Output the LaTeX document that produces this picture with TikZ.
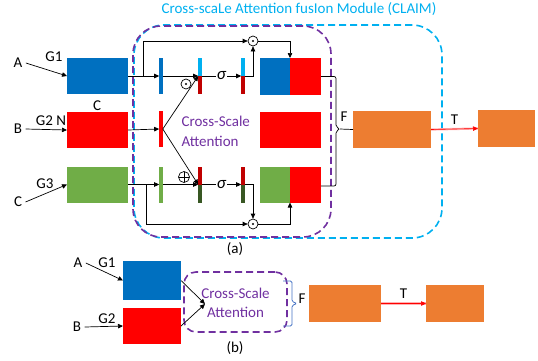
\documentclass[tikz,border=0pt]{standalone}
\usepackage{fontspec}
\setmainfont{Carlito}
\usetikzlibrary{arrows.meta}
\definecolor{cblue}{RGB}{0,112,192}
\definecolor{cred}{RGB}{255,0,0}
\definecolor{cgreen}{RGB}{112,173,71}
\definecolor{clight}{RGB}{0,176,240}
\definecolor{cdred}{RGB}{192,0,0}
\definecolor{cdgreen}{RGB}{56,87,35}
\definecolor{corange}{RGB}{237,125,49}
\definecolor{cpurple}{RGB}{112,48,160}
\definecolor{cbrace}{RGB}{68,114,196}
\begin{document}
\begin{tikzpicture}[x=1pt,y=-1pt,
  every node/.style={font=\fontsize{15}{17}\selectfont},
  box/.style={rectangle, inner sep=0pt, outer sep=0pt},
  bar/.style={rectangle, inner sep=0pt, outer sep=0pt, minimum width=3.6pt, minimum height=36pt},
  halfbar/.style={rectangle, inner sep=0pt, outer sep=0pt, minimum width=3.6pt, minimum height=18pt},
  arr/.style={draw=black, line width=0.7pt, -{Triangle[length=5pt,width=4.5pt]}},
  ln/.style={draw=black, line width=0.7pt},
  odot/.style={circle, draw, line width=0.7pt, minimum size=10pt, inner sep=0pt,
    path picture={\fill (path picture bounding box.center) circle (1.1pt);}},
  oplus/.style={circle, draw, line width=0.7pt, minimum size=11pt, inner sep=0pt,
    path picture={\draw[line width=0.7pt] (path picture bounding box.north) -- (path picture bounding box.south)
      (path picture bounding box.west) -- (path picture bounding box.east);}},
  tarrow/.style={draw=red, line width=0.6pt, -{Triangle[length=5pt,width=4.5pt]},
    preaction={draw=red!30, line width=2.2pt, -}},
  pdash/.style={draw=cpurple, line width=1.6pt, dash pattern=on 7pt off 4pt},
  cdash/.style={draw=clight, line width=1.6pt, dash pattern=on 7pt off 4pt},
  sig/.style={fill=white, inner sep=1pt, font=\fontsize{17}{17}\selectfont\itshape}
]
\useasboundingbox (0,0) rectangle (538,360);

% title
\node[text=clight] (title) at (299,9) {Cross-scaLe Attention fusIon Module (CLAIM)};

% dashed frames
\node[cdash, rounded corners=30pt, minimum width=308pt, minimum height=213pt, inner sep=0pt] (claim) at (288,131.5) {};
\node[pdash, rounded corners=28pt, minimum width=198pt, minimum height=211pt, inner sep=0pt] (csa) at (232,131.5) {};

% input boxes
\node[box, fill=cblue, minimum width=61pt, minimum height=36pt] (g1) at (97.5,76) {};
\node[box, fill=cred, minimum width=61pt, minimum height=36pt] (g2) at (97.5,130) {};
\node[box, fill=cgreen, minimum width=61pt, minimum height=36pt] (g3) at (97.5,184.5) {};

% input labels
\node (lA) at (18,63) {A};
\node (lG1) at (54,57) {G1};
\node (lB) at (18,129) {B};
\node (lG2) at (51,121) {G2 N};
\node (lCt) at (97,106) {C};
\node (lC) at (18,202) {C};
\node (lG3) at (45,184) {G3};
\draw[arr] (lA.east) -- (g1.west);
\draw[arr] (lB.east) -- (g2.west);
\draw[arr] (lC.east) -- (g3.west);

% bars
\node[bar, fill=cblue] (b1) at (161,76) {};
\node[halfbar, fill=clight] (b2t) at (200,67) {};
\node[halfbar, fill=cdred] (b2b) at (200,85) {};
\node[halfbar, fill=clight] (b3t) at (243,67) {};
\node[halfbar, fill=cdred] (b3b) at (243,85) {};
\node[bar, fill=cred] (b4) at (161,129) {};
\node[bar, fill=cgreen] (b5) at (161,184.5) {};
\node[halfbar, fill=cdred] (b6t) at (200,175.5) {};
\node[halfbar, fill=cdgreen] (b6b) at (200,193.5) {};
\node[halfbar, fill=cdred] (b7t) at (243,175.5) {};
\node[halfbar, fill=cdgreen] (b7b) at (243,193.5) {};

% operators
\node[odot] (o0) at (186,84) {};
\node[oplus] (p0) at (184,177) {};
\node[odot] (o1) at (253,41) {};
\node[odot] (o2) at (253,224) {};

% concat boxes
\node[box, fill=cblue, minimum width=30pt, minimum height=37pt] (c1b) at (275,76.5) {};
\node[box, fill=cred, minimum width=31pt, minimum height=37pt] (c1r) at (305.5,76.5) {};
\node[box, fill=cred, minimum width=61pt, minimum height=36pt] (c2) at (290.5,130) {};
\node[box, fill=cgreen, minimum width=30pt, minimum height=36pt] (c3g) at (275,184.5) {};
\node[box, fill=cred, minimum width=31pt, minimum height=36pt] (c3r) at (305.5,184.5) {};

% cross-scale text
\node[text=cpurple, align=left, anchor=west, font=\fontsize{15}{20}\selectfont] (cstext) at (178,131) {Cross-Scale\\Attention};

% row 1
\coordinate (br1) at (143,76);
\draw[arr] (g1.east) -- (b1.west);
\draw[arr] (br1) |- (o1.west);
\draw[arr] (b1.east) -- (b2t.south west);
\draw[arr] (b2t.south east) -- node[sig] (s1) {σ} (b3t.south west);
\draw[arr] (b3t.south east) -| (o1.south);
\draw[arr] (o1.east) -| (c1r.north west);

% row 2
\draw[arr] (g2.east) -- (b4.west);
\draw[arr] (b4.east) -- (b2t.south west);
\draw[arr] (b4.east) -- (b6t.south west);

% row 3
\coordinate (br3) at (146,184.5);
\draw[arr] (g3.east) -- (b5.west);
\draw[arr] (br3) |- (o2.west);
\draw[arr] (b5.east) -- (b6t.south west);
\draw[arr] (b6t.south east) -- node[sig] (s2) {σ} (b7t.south west);
\draw[arr] (b7t.south east) -| (o2.north);
\draw[arr] (o2.east) -| (c3r.south west);

% brace (a)
\coordinate (ftip) at (340,129);
\draw[ln, rounded corners=2pt] (c1r.east) -- (336,76.5) -- (336,127) -- (ftip) -- (336,131) -- (336,186) -- (c3r.east |- 0,186);
\node[box, fill=corange, minimum width=78pt, minimum height=37pt] (or1) at (392,129.5) {};
\node[box, fill=corange, minimum width=57pt, minimum height=37pt] (or2) at (506.5,128.5) {};
\draw[ln] (ftip) -- (or1.west);
\node (fa) at (344,117) {F};
\draw[tarrow] (or1.east) -- node[above=1pt, text=black] (ta) {T} (or2.west);

\node (capa) at (235,249) {(a)};

% part (b)
\node[box, fill=cblue, minimum width=58pt, minimum height=39pt] (bb1) at (152,280.5) {};
\node[box, fill=cred, minimum width=58pt, minimum height=36pt] (bb2) at (152,326) {};
\node (bA) at (78,263) {A};
\node (bG1) at (107,263) {G1};
\node (bB) at (77,327) {B};
\node (bG2) at (107,319) {G2};
\draw[arr] (bA.east) -- (bb1.west);
\draw[arr] (bB.east) -- (bb2.west);
\node[pdash, rounded corners=12pt, minimum width=103pt, minimum height=60pt, inner sep=0pt] (cs) at (235.5,302) {};
\node[text=cpurple, align=center, font=\fontsize{15}{19}\selectfont] (cstb) at (235.5,302.5) {Cross-Scale\\Attention};
\coordinate (csin) at (205,304);
\draw[arr] (bb1.east) -- (csin);
\draw[arr] (bb2.east) -- (csin);
\coordinate (bt1) at (283,281);
\coordinate (bt2) at (283,326);
\coordinate (btip) at (297,303.5);
\draw[draw=cbrace, line width=0.8pt, rounded corners=1.5pt] (bt1) -- (292,281) -- (292,301.5) -- (btip) -- (292,305.5) -- (292,326) -- (bt2);
\node (fb) at (302,299) {F};
\node[box, fill=corange, minimum width=72pt, minimum height=37pt] (ob1) at (345,303.5) {};
\node[box, fill=corange, minimum width=58pt, minimum height=37pt] (ob2) at (455,303.5) {};
\draw[tarrow] (ob1.east) -- node[above=1pt, text=black] (tb) {T} (ob2.west);
\node (capb) at (235,348) {(b)};
\end{tikzpicture}
\end{document}
